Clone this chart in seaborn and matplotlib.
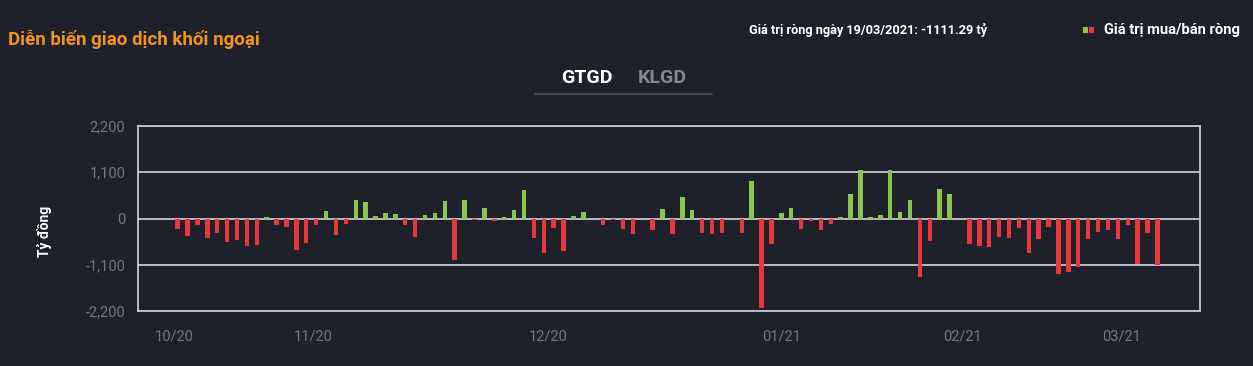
"""
Foreign investors net trading chart (GTGD), 10/2020 - 03/2021
"""
import numpy as np
import pandas as pd
import matplotlib
matplotlib.use("Agg")
import matplotlib.pyplot as plt
from matplotlib.patches import Rectangle
from matplotlib.lines import Line2D
import seaborn as sns

# net buy/sell value per trading session (billion VND)
net_values = [
    -250, -425, -165, -470, -345, -565, -520, -660, -630, 30,
    -150, -210, -745, -590, -165, 175, -390, -120, 440, 385,
    63, 140, 110, -145, -450, 85, 135, 410, -990, 430,
    -47, 245, -70, 40, 210, 685, -465, -815, -230, -780,
    55, 155, 0, -160, -45, -245, -372, 0, -262, 236,
    -370, 510, 208, -340, -372, -340, 0, -345, 895, -2120,
    -615, 140, 245, -260, -55, -265, -140, 30, 575, 1150,
    25, 85, 1165, 155, 430, -1400, -525, 700, 575, -10,
    -615, -645, -675, -440, -455, -230, -825, -495, -210, -1330,
    -1265, -1155, -480, -330, -285, -480, -165, -1085, -345, -1111.29,
]
month_labels = ["10/20", "11/20", "12/20", "01/21", "02/21", "03/21"]
month_positions = [-0.3, 13.7, 37.4, 61.0, 79.3, 95.4]
y_ticks = [-2200, -1100, 0, 1100, 2200]

BG = "#1e212a"
RED = "#e8383d"
GREEN = "#8cc64e"
GRID = "#c4c6ca"
TICK = "#74777e"
ORANGE = "#f39321"

df = pd.DataFrame({"session": np.arange(len(net_values)), "value": net_values})
df["side"] = np.where(df["value"] >= 0, "buy", "sell")

sns.set_theme(style="dark")
plt.rcParams["font.family"] = ["Roboto", "DejaVu Sans"]

fig = plt.figure(figsize=(12.53, 3.66), dpi=100, facecolor=BG)
ax = fig.add_axes([138 / 1253, 1 - 311 / 366, (1200 - 138) / 1253, (311 - 126) / 366])
ax.set_facecolor(BG)

sns.barplot(
    data=df, x="session", y="value", hue="side",
    palette={"buy": GREEN, "sell": RED}, dodge=False, width=0.45,
    legend=False, ax=ax, saturation=1, order=list(df["session"]),
    linewidth=0, edgecolor="none",
)

ax.set_xlim(-4.0, 103.3)
ax.set_ylim(-2200, 2200)
ax.set_yticks(y_ticks)
ax.set_yticklabels([f"{v:,}" for v in y_ticks])
ax.set_xticks(month_positions)
ax.set_xticklabels(month_labels)
ax.tick_params(axis="both", length=0, colors=TICK, labelsize=10.5)
ax.tick_params(axis="y", pad=9)
ax.tick_params(axis="x", pad=13)
ax.set_xlabel("")
ax.set_ylabel("")

# horizontal grid + frame
for v in y_ticks:
    ax.axhline(v, color=GRID, lw=1.3, zorder=0.5)
for side in ["left", "right", "top", "bottom"]:
    ax.spines[side].set_visible(True)
    ax.spines[side].set_color(GRID)
    ax.spines[side].set_linewidth(1.3)
ax.grid(False)

fig.text(45 / 1253, 1 - 231 / 366, "Tỷ đồng", rotation=90, color="white",
         fontsize=10, fontweight="bold", ha="center", va="center")

# header
fig.text(8 / 1253, 1 - 39 / 366, "Diễn biến giao dịch khối ngoại", color=ORANGE,
         fontsize=13.5, fontweight="bold", ha="left", va="center")
fig.text(987 / 1253, 1 - 30 / 366, "Giá trị ròng ngày 19/03/2021: -1111.29 tỷ",
         color="white", fontsize=9.2, fontweight="bold", ha="right", va="center")
fig.add_artist(Rectangle((1083 / 1253, 1 - 32.5 / 366), 5 / 1253, 5 / 366,
                         transform=fig.transFigure, color=GREEN, lw=0))
fig.add_artist(Rectangle((1089 / 1253, 1 - 32.5 / 366), 5 / 1253, 5 / 366,
                         transform=fig.transFigure, color=RED, lw=0))
fig.text(1240 / 1253, 1 - 30 / 366, "Giá trị mua/bán ròng", color="white",
         fontsize=10.6, fontweight="bold", ha="right", va="center")

# tab switcher
fig.text(587 / 1253, 1 - 78 / 366, "GTGD", color="white", fontsize=14,
         fontweight="bold", ha="center", va="center")
fig.text(662 / 1253, 1 - 78 / 366, "KLGD", color="#85878d", fontsize=14,
         fontweight="bold", ha="center", va="center")
fig.add_artist(Line2D([535 / 1253, 712 / 1253], [1 - 94 / 366, 1 - 94 / 366],
                      transform=fig.transFigure, color="#50545f", lw=1.2))

fig.savefig("out.png", dpi=100, facecolor=BG)
